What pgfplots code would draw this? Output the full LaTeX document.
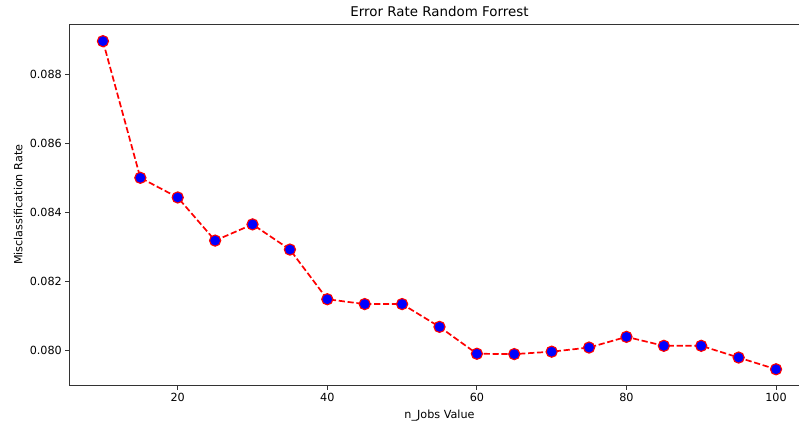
\documentclass[border=0pt]{standalone}
\usepackage{pgfplots}
\pgfplotsset{compat=1.18}
\usepackage{fontspec}
\setmainfont{DejaVu Sans}
\begin{document}
\begin{tikzpicture}
\begin{axis}[
  at={(0,0)}, anchor=south west,
  scale only axis, width=740.4bp, height=361.7bp,
  xmin=5.5, xmax=104.5, ymin=0.078974, ymax=0.089458,
  xtick={20,40,60,80,100},
  ytick={0.080,0.082,0.084,0.086,0.088},
  tick align=outside, xtick pos=left, ytick pos=left,
  major tick length=3.9bp,
  axis line style={black!80, line width=0.9bp},
  every tick/.style={black!80, line width=0.9bp},
  tick label style={font=\fontsize{11.2bp}{13bp}\selectfont},
  /pgf/number format/assume math mode=true,
  yticklabel style={/pgf/number format/fixed, /pgf/number format/fixed zerofill, /pgf/number format/precision=3},
  scaled y ticks=false,
  every axis title shift=0pt,
  title={Error Rate Random Forrest},
  title style={font=\fontsize{13.4bp}{16bp}\selectfont, at={(axis description cs:0.5,1.0194)}, anchor=south, inner sep=0pt},
  xlabel={n\_Jobs Value},
  xlabel style={font=\fontsize{11.2bp}{13bp}\selectfont, at={(axis description cs:0.5,-0.0672)}, anchor=north, inner sep=0pt},
  ylabel={Misclassification Rate},
  ylabel style={font=\fontsize{11.2bp}{13bp}\selectfont, at={(axis description cs:-0.0629,0.5)}, anchor=south, inner sep=0pt},
]
\addplot[red, dash pattern=on 6.2bp off 2.7bp, line width=1.7bp, mark=*, mark size=5.6bp,
  mark options={solid, fill=blue, draw=red, line width=1.1bp}] coordinates {
(10,0.08896) (15,0.08500) (20,0.08443) (25,0.08318) (30,0.08365)
(35,0.08292) (40,0.08148) (45,0.08134) (50,0.08134) (55,0.08068)
(60,0.07990) (65,0.07989) (70,0.07996) (75,0.08008) (80,0.08039)
(85,0.08013) (90,0.08013) (95,0.07979) (100,0.07945)
};
\end{axis}
\draw[black!80, line width=0.9bp] (current axis.north west) -- (current axis.north east) -- (current axis.south east);
\pgfresetboundingbox
\useasboundingbox (-69.3bp,-36.3bp) rectangle (729.7bp,385.7bp);
\end{tikzpicture}
\end{document}
